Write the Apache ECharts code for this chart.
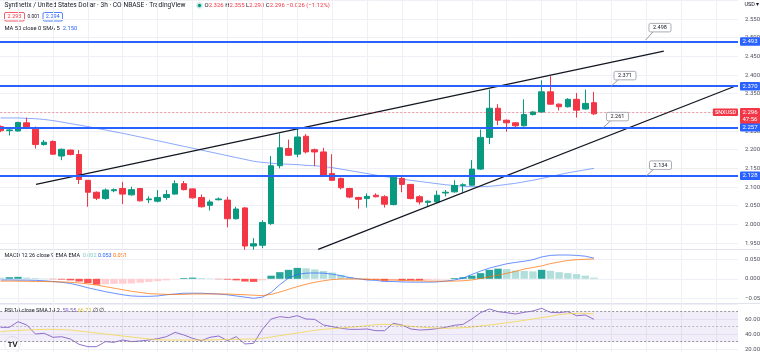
<!DOCTYPE html>
<html>
<head>
<meta charset="utf-8">
<title>SNXUSD 3h</title>
<script src="https://cdn.jsdelivr.net/npm/echarts@6.0.0/dist/echarts.min.js"></script>
<style>
  html, body { margin: 0; padding: 0; background: #fff; }
  #charts { width: 760px; height: 352px; }
</style>
</head>
<body>
<div id="charts"></div>
<script>
// 蜡烛数据 (SNX/USD 3h)
var opens = [2.262,2.251,2.250,2.272,2.255,2.214,2.222,2.183,2.199,2.187,
  2.118,2.086,2.069,2.090,2.096,2.079,2.096,2.066,2.062,2.072,
  2.081,2.109,2.095,2.072,2.051,2.066,2.065,2.015,2.044,1.942,
  1.944,2.002,2.157,2.203,2.188,2.236,2.200,2.194,2.136,2.123,
  2.096,2.072,2.069,2.078,2.074,2.053,2.123,2.107,2.074,2.059,
  2.060,2.084,2.087,2.104,2.105,2.148,2.233,2.311,2.279,2.272,
  2.264,2.294,2.301,2.355,2.322,2.315,2.335,2.309,2.326];
var closes = [2.251,2.253,2.273,2.257,2.214,2.220,2.188,2.201,2.187,2.120,
  2.086,2.070,2.092,2.093,2.081,2.093,2.063,2.068,2.072,2.080,
  2.109,2.093,2.071,2.047,2.060,2.068,2.015,2.041,1.942,1.948,
  2.005,2.157,2.205,2.185,2.234,2.194,2.194,2.132,2.118,2.098,
  2.073,2.067,2.075,2.074,2.054,2.126,2.107,2.069,2.060,2.062,
  2.078,2.086,2.104,2.106,2.148,2.233,2.311,2.279,2.272,2.264,
  2.294,2.301,2.355,2.322,2.315,2.335,2.306,2.324,2.296];
var lows = [2.247,2.238,2.249,2.255,2.203,2.211,2.186,2.172,2.185,2.108,
  2.047,2.065,2.066,2.086,2.054,2.077,2.061,2.057,2.059,2.066,
  2.080,2.091,2.069,2.045,2.037,2.064,1.992,2.013,1.932,1.932,
  1.936,1.998,2.150,2.183,2.180,2.190,2.156,2.129,2.116,2.094,
  2.070,2.042,2.045,2.072,2.045,2.051,2.086,2.067,2.053,2.049,
  2.058,2.075,2.085,2.085,2.103,2.146,2.215,2.266,2.248,2.260,
  2.262,2.292,2.299,2.320,2.305,2.313,2.286,2.307,2.293];
var highs = [2.265,2.257,2.275,2.286,2.262,2.226,2.225,2.203,2.200,2.199,
  2.118,2.088,2.096,2.096,2.114,2.101,2.097,2.075,2.092,2.092,
  2.118,2.116,2.096,2.080,2.066,2.072,2.074,2.047,2.046,1.963,
  2.011,2.183,2.243,2.227,2.257,2.242,2.203,2.205,2.188,2.125,
  2.098,2.074,2.083,2.083,2.078,2.128,2.128,2.108,2.078,2.064,
  2.090,2.092,2.118,2.110,2.172,2.254,2.361,2.322,2.281,2.274,
  2.335,2.303,2.386,2.397,2.324,2.338,2.352,2.361,2.355];

// MA 50
var ma50 = [2.285,2.285,2.285,2.284,2.283,2.281,2.278,2.274,2.270,2.266,
  2.262,2.257,2.253,2.248,2.244,2.239,2.234,2.229,2.224,2.219,
  2.214,2.209,2.204,2.199,2.194,2.189,2.184,2.179,2.174,2.169,
  2.166,2.164,2.162,2.161,2.160,2.158,2.157,2.155,2.152,2.148,
  2.144,2.140,2.136,2.132,2.128,2.125,2.121,2.118,2.115,2.112,
  2.109,2.106,2.104,2.102,2.101,2.101,2.102,2.104,2.107,2.110,
  2.114,2.118,2.123,2.128,2.133,2.138,2.142,2.146,2.150];

// MACD 12 26 9
var macdLine = [-0.003,-0.003,-0.0034,-0.0035,-0.004,-0.005,-0.007,-0.009,-0.012,-0.017,
  -0.023,-0.028,-0.033,-0.037,-0.041,-0.044,-0.045,-0.045,-0.044,-0.041,
  -0.039,-0.037,-0.037,-0.037,-0.038,-0.039,-0.041,-0.044,-0.047,-0.050,
  -0.047,-0.035,-0.015,0.002,0.011,0.0145,0.015,0.0145,0.012,0.008,
  0.003,0.000,-0.003,-0.004,-0.007,-0.007,-0.008,-0.0085,-0.0085,-0.0085,
  -0.008,-0.006,-0.003,0.0017,0.011,0.0197,0.0274,0.033,0.0385,0.042,
  0.045,0.049,0.056,0.060,0.061,0.061,0.060,0.058,0.053];
var signalLine = [-0.006,-0.006,-0.006,-0.0065,-0.007,-0.007,-0.0075,-0.008,-0.009,-0.0105,
  -0.013,-0.016,-0.020,-0.024,-0.028,-0.032,-0.035,-0.038,-0.039,-0.040,
  -0.040,-0.040,-0.039,-0.039,-0.039,-0.039,-0.039,-0.040,-0.041,-0.042,
  -0.043,-0.040,-0.034,-0.027,-0.020,-0.014,-0.009,-0.005,-0.002,-0.0005,
  -0.0005,-0.0005,-0.001,-0.002,-0.003,-0.003,-0.004,-0.005,-0.005,-0.006,
  -0.006,-0.006,-0.006,-0.005,-0.003,0.001,0.005,0.009,0.014,0.019,
  0.025,0.029,0.033,0.039,0.043,0.047,0.049,0.050,0.051];
var macdHist = [0.003,0.004,0.005,0.003,0.002,0.001,-0.001,-0.002,-0.004,-0.007,
  -0.011,-0.015,-0.014,-0.013,-0.0125,-0.012,-0.010,-0.008,-0.006,-0.004,
  -0.001,0.002,0.003,0.002,0.001,-0.001,-0.002,-0.004,-0.007,-0.008,
  -0.004,0.008,0.017,0.023,0.028,0.027,0.024,0.020,0.016,0.010,
  0.005,0.001,-0.002,-0.002,-0.005,-0.004,-0.004,-0.004,-0.004,-0.003,
  -0.002,-0.001,0.002,0.004,0.008,0.0145,0.023,0.026,0.025,0.021,
  0.020,0.019,0.023,0.0205,0.017,0.0145,0.012,0.008,0.003];

// RSI 14 + SMA 14
var rsi = [48.9,48.9,56.4,52,40,41,35.6,36.4,33.3,26.2,
  23.1,23.1,29.8,28.9,32,29.8,30.7,32,33.8,36.4,
  42.2,38.7,34.2,31.1,35.6,37.3,31.1,36.4,26.7,27.6,
  46.2,60,63.1,61.8,64.4,60,59.5,52,49.8,47.6,
  46.2,46.2,46.7,44.4,44.4,54.2,52,46.7,45.3,45.8,
  47.1,48.9,51.6,52.9,60,68.4,73.3,69.8,68.4,66.7,
  68.9,70.7,74.2,68.9,68.4,69.8,64.4,65.3,59.55];
var rsiMa = [43.1,44,44.9,45.3,45.8,46.2,46.2,45.8,45.3,44,
  42.7,41.3,40,38.7,37.3,36,34.7,33.3,32.4,32,
  32,32,32,32,32,32.4,32.9,32.9,33.3,33.3,
  34.2,36,37.8,39.6,41.3,43.1,44.9,46.2,47.1,48,
  48.9,49.8,51.1,52.4,52.9,52.4,51.6,50.2,49.3,48.4,
  48,47.6,48,48.4,49.3,50.7,52,53.3,55.1,56.4,
  58.2,60,61.8,63.6,65.8,67.1,67.6,67.6,66.7];

// 水平线 / 趋势线 / 标注
var levels = [2.493, 2.370, 2.257, 2.128];
var lastClose = 2.296;
var trendUpper = [[4.06, 2.107], [76.0, 2.464]];
var trendLower = [[36.4, 1.933], [84.15, 2.370]];
var calloutText = ['2.498', '2.371', '2.261', '2.134'];
var calloutBox = [[75.56, 2.527], [71.55, 2.3985], [70.69, 2.2886], [75.62, 2.1586]];
var calloutTip = [[73.9, 2.4935], [69.94, 2.369], [68.97, 2.2578], [73.96, 2.129]];

// 刻度
var priceTicks = {min: 1.95, max: 2.60, interval: 0.05};
var macdTicks = {min: -0.05, max: 0.05, interval: 0.05};
var rsiTicks = {min: 20, max: 80, interval: 20};
var rsiBands = [70, 50, 30];

var SLOTS = 85;
var cats = [];
for (var k = 0; k < SLOTS; k++) cats.push(String(k));

var UP = '#089981', DOWN = '#f23645';
var FONT = 'Roboto, "Noto Sans", sans-serif';
var GRIDC = '#eef0f5';

function histColor(i) {
  var v = macdHist[i], p = i > 0 ? macdHist[i - 1] : v;
  if (v >= 0) return p < v ? '#26a69a' : '#b2dfdb';
  return p < v ? '#ffcdd2' : '#ff5252';
}
function minus(v, d) { return (v < 0 ? '\u2212' : '') + Math.abs(v).toFixed(d); }

var myChart = echarts.init(document.getElementById('charts'));

var axisLabelStyle = {fontSize: 6, color: '#50535e', fontFamily: FONT, margin: 7};
function hiddenCat(gi) {
  return {type: 'category', gridIndex: gi, data: cats, boundaryGap: true, show: false};
}

var option = {
  animation: false,
  backgroundColor: '#fff',
  grid: [
    {left: -16.89, right: 22, top: 0, bottom: 0, containLabel: false, outerBoundsMode: 'none'},
    {left: -3.8, right: 22, top: 0.4, height: 242.6, containLabel: false, outerBoundsMode: 'none'},
    {left: -3.8, right: 22, top: 259.3, height: 39, containLabel: false, outerBoundsMode: 'none'},
    {left: -3.8, right: 22, top: 304, height: 45, containLabel: false, outerBoundsMode: 'none'}
  ],
  xAxis: [
    {type: 'value', gridIndex: 0, min: -2, max: 84.5, interval: 4,
      axisLine: {show: false}, axisTick: {show: false}, axisLabel: {show: false},
      splitLine: {show: true, showMinLine: false, showMaxLine: false, lineStyle: {color: GRIDC, width: 1}}},
    hiddenCat(1),
    {type: 'value', gridIndex: 1, min: -0.5, max: SLOTS - 0.5, show: false},
    hiddenCat(2),
    hiddenCat(3)
  ],
  yAxis: [
    {type: 'value', gridIndex: 0, min: 0, max: 1, show: false},
    {type: 'value', gridIndex: 1, position: 'right', min: priceTicks.min, max: priceTicks.max, interval: priceTicks.interval,
      axisLine: {show: false}, axisTick: {show: false},
      axisLabel: Object.assign({showMaxLabel: false, formatter: function (v) { return v.toFixed(3); }}, axisLabelStyle),
      splitLine: {lineStyle: {color: GRIDC}}},
    {type: 'value', gridIndex: 2, position: 'right', min: macdTicks.min, max: macdTicks.max, interval: macdTicks.interval,
      axisLine: {show: false}, axisTick: {show: false},
      axisLabel: Object.assign({formatter: function (v) { return minus(v, 3); }}, axisLabelStyle),
      splitLine: {lineStyle: {color: GRIDC}}},
    {type: 'value', gridIndex: 3, position: 'right', min: rsiTicks.min, max: rsiTicks.max, interval: rsiTicks.interval,
      axisLine: {show: false}, axisTick: {show: false},
      axisLabel: Object.assign({showMaxLabel: false, formatter: function (v) { return v.toFixed(2); }}, axisLabelStyle),
      splitLine: {lineStyle: {color: GRIDC}}}
  ],
  series: [
    {
      name: 'SNXUSD', type: 'candlestick', xAxisIndex: 1, yAxisIndex: 1, clip: false,
      barWidth: 6,
      data: opens.map(function (o, i) { return [o, closes[i], lows[i], highs[i]]; }),
      itemStyle: {color: UP, color0: DOWN, borderColor: UP, borderColor0: DOWN, borderWidth: 1},
      markLine: {
        silent: true, symbol: ['none', 'none'], animation: false,
        data: levels.map(function (v) {
          return {yAxis: v, lineStyle: {color: '#2962ff', width: 2, type: 'solid'},
            label: {show: true, position: 'end', distance: 2, formatter: v.toFixed(3),
              backgroundColor: '#2962ff', color: '#fff', fontSize: 6, fontFamily: FONT,
              padding: [1.5, 2.5, 1, 2.5], borderRadius: 1}};
        }).concat([
          {yAxis: lastClose, lineStyle: {color: 'rgba(242,54,69,0.45)', width: 1, type: [2, 2]},
            label: {show: true, position: 'end', distance: 2, formatter: lastClose.toFixed(3) + '\n47:56',
              backgroundColor: DOWN, color: '#fff', fontSize: 6, lineHeight: 7, fontFamily: FONT,
              padding: [1, 2.5, 0.5, 2.5], borderRadius: 1, offset: [0, 3.3]}},
          {yAxis: lastClose, lineStyle: {color: 'rgba(0,0,0,0)', width: 1},
            label: {show: true, position: 'insideEnd', distance: 0, formatter: 'SNXUSD',
              backgroundColor: DOWN, color: '#fff', fontSize: 5.5, fontFamily: FONT,
              padding: [1, 2, 0.5, 2], borderRadius: 1}}
        ])
      },
      z: 3
    },
    {
      name: 'MA50', type: 'line', xAxisIndex: 1, yAxisIndex: 1, data: ma50, showSymbol: false, clip: false,
      lineStyle: {color: '#2962ff', width: 1, opacity: 0.55}, z: 2
    },
    {
      name: 'trendUpper', type: 'line', xAxisIndex: 2, yAxisIndex: 1, data: trendUpper, showSymbol: false, clip: false,
      lineStyle: {color: '#131722', width: 1.3}, z: 4
    },
    {
      name: 'trendLower', type: 'line', xAxisIndex: 2, yAxisIndex: 1, data: trendLower, showSymbol: false, clip: false,
      lineStyle: {color: '#131722', width: 1.3}, z: 4
    },
    {
      name: 'callouts', type: 'custom', xAxisIndex: 2, yAxisIndex: 1, clip: false, z: 5,
      data: calloutBox.map(function (b, i) { return [b[0], b[1], calloutTip[i][0], calloutTip[i][1]]; }),
      encode: {x: [0, 2], y: [1, 3]},
      renderItem: function (params, api) {
        var b = api.coord([api.value(0), api.value(1)]);
        var t = api.coord([api.value(2), api.value(3)]);
        var w = 22, h = 8.5;
        return {
          type: 'group',
          children: [
            {type: 'line', shape: {x1: b[0] - w / 2 + 4, y1: b[1] + h / 2, x2: t[0], y2: t[1]},
              style: {stroke: '#9598a1', lineWidth: 1}},
            {type: 'rect', shape: {x: b[0] - w / 2, y: b[1] - h / 2, width: w, height: h, r: 1.5},
              style: {fill: '#fff', stroke: '#9598a1', lineWidth: 0.8}},
            {type: 'text', style: {x: b[0], y: b[1] + 0.3, text: calloutText[params.dataIndex], align: 'center',
              verticalAlign: 'middle', fontSize: 5.5, fontFamily: FONT, fill: '#131722'}}
          ]
        };
      }
    },
    {
      name: 'Histogram', type: 'bar', xAxisIndex: 3, yAxisIndex: 2, barWidth: 7.4,
      data: macdHist.map(function (v, i) { return {value: v, itemStyle: {color: histColor(i)}}; })
    },
    {
      name: 'MACD', type: 'line', xAxisIndex: 3, yAxisIndex: 2, data: macdLine, showSymbol: false, clip: false,
      lineStyle: {color: '#2962ff', width: 1, opacity: 0.7}
    },
    {
      name: 'Signal', type: 'line', xAxisIndex: 3, yAxisIndex: 2, data: signalLine, showSymbol: false, clip: false,
      lineStyle: {color: '#ff6d00', width: 1, opacity: 0.7}
    },
    {
      name: 'RSI', type: 'line', xAxisIndex: 4, yAxisIndex: 3, data: rsi, showSymbol: false, clip: false,
      lineStyle: {color: '#7e57c2', width: 1, opacity: 0.85},
      markArea: {silent: true, itemStyle: {color: 'rgba(126,87,194,0.1)'}, data: [[{yAxis: 30}, {yAxis: 70}]]},
      markLine: {
        silent: true, symbol: ['none', 'none'], label: {show: false},
        data: rsiBands.map(function (v) {
          return {yAxis: v, lineStyle: {color: '#787b86', width: 1, type: [2, 2], opacity: v === 50 ? 0.45 : 0.8}};
        })
      }
    },
    {
      name: 'RSI MA', type: 'line', xAxisIndex: 4, yAxisIndex: 3, data: rsiMa, showSymbol: false, clip: false,
      lineStyle: {color: '#f2d64b', width: 1, opacity: 0.8}
    }
  ],
  graphic: [
    {type: 'line', shape: {x1: 0, y1: 249.5, x2: 760, y2: 249.5}, style: {stroke: '#e0e3eb', lineWidth: 1}, silent: true},
    {type: 'line', shape: {x1: 0, y1: 303.5, x2: 760, y2: 303.5}, style: {stroke: '#e0e3eb', lineWidth: 1}, silent: true},
    {type: 'text', x: 4.5, y: 5.5, silent: true,
      style: {text: 'Synthetix / United States Dollar \u00b7 3h \u00b7 COINBASE \u00b7 TradingView', fontSize: 6.6,
        fontFamily: FONT, fill: '#131722', verticalAlign: 'middle'}},
    {type: 'circle', shape: {cx: 199.5, cy: 5.5, r: 3.2}, style: {fill: 'rgba(8,153,129,0.2)'}, silent: true},
    {type: 'circle', shape: {cx: 199.5, cy: 5.5, r: 1.7}, style: {fill: UP}, silent: true},
    {type: 'text', x: 204.5, y: 5.5, silent: true,
      style: {text: '{l|O}{v|2.326} {l|H}{v|2.355} {l|L}{v|2.293} {l|C}{v|2.296} {v|\u22120.026 (\u22121.12%)}',
        verticalAlign: 'middle', fontSize: 6, fontFamily: FONT,
        rich: {l: {fill: '#131722', color: '#131722', fontSize: 6, fontFamily: FONT},
               v: {fill: DOWN, color: DOWN, fontSize: 6, fontFamily: FONT}}}},
    {type: 'rect', shape: {x: 4.5, y: 12.5, width: 20, height: 8.5, r: 1.5}, style: {fill: '#fff', stroke: DOWN, lineWidth: 0.8}, silent: true},
    {type: 'text', x: 14.5, y: 16.9, silent: true,
      style: {text: '2.293', align: 'center', verticalAlign: 'middle', fontSize: 5.5, fontFamily: FONT, fill: DOWN}},
    {type: 'text', x: 27.5, y: 16.9, silent: true,
      style: {text: '0.001', verticalAlign: 'middle', fontSize: 4.8, fontFamily: FONT, fill: '#131722'}},
    {type: 'rect', shape: {x: 43, y: 12.5, width: 19.5, height: 8.5, r: 1.5}, style: {fill: '#fff', stroke: '#2962ff', lineWidth: 0.8}, silent: true},
    {type: 'text', x: 52.75, y: 16.9, silent: true,
      style: {text: '2.294', align: 'center', verticalAlign: 'middle', fontSize: 5.5, fontFamily: FONT, fill: '#2962ff'}},
    {type: 'text', x: 4.5, y: 28.8, silent: true,
      style: {text: '{l|MA 50 close 0 SMA 5}  {b|2.150}', verticalAlign: 'middle', fontSize: 5.8, fontFamily: FONT,
        rich: {l: {fill: '#131722', color: '#131722', fontSize: 5.8, fontFamily: FONT},
               b: {fill: '#2962ff', color: '#2962ff', fontSize: 5.8, fontFamily: FONT}}}},
    {type: 'text', x: 4.5, y: 256, silent: true,
      style: {text: '{l|MACD 12 26 close 9 EMA EMA}  {h|0.002} {m|0.053} {s|0.051}', verticalAlign: 'middle', fontSize: 5.5, fontFamily: FONT,
        rich: {l: {fill: '#131722', color: '#131722', fontSize: 5.5, fontFamily: FONT},
               h: {fill: '#80cbc4', color: '#80cbc4', fontSize: 5.5, fontFamily: FONT},
               m: {fill: '#2962ff', color: '#2962ff', fontSize: 5.5, fontFamily: FONT},
               s: {fill: '#ff6d00', color: '#ff6d00', fontSize: 5.5, fontFamily: FONT}}}},
    {type: 'text', x: 4.5, y: 310.3, silent: true,
      style: {text: '{l|RSI 14 close SMA 14 2}  {r|59.55} {y|66.70} {l|\u2205 \u2205}', verticalAlign: 'middle', fontSize: 5.5, fontFamily: FONT,
        rich: {l: {fill: '#131722', color: '#131722', fontSize: 5.5, fontFamily: FONT},
               r: {fill: '#7e57c2', color: '#7e57c2', fontSize: 5.5, fontFamily: FONT},
               y: {fill: '#e0bf2c', color: '#e0bf2c', fontSize: 5.5, fontFamily: FONT}}}},
    {type: 'text', x: 744.5, y: 4.5, silent: true,
      style: {text: 'USD \u25be', verticalAlign: 'middle', fontSize: 5.5, fontFamily: FONT, fill: '#131722'}},
    {type: 'circle', shape: {cx: 12.5, cy: 344.5, r: 8}, style: {fill: '#fff', stroke: 'rgba(0,0,0,0.08)', lineWidth: 1}, silent: true},
    {type: 'text', x: 12.5, y: 344.8, silent: true,
      style: {text: 'TV', align: 'center', verticalAlign: 'middle', fontSize: 7.5, fontWeight: 'bold', fontFamily: FONT, fill: '#131722'}}
  ]
};

myChart.setOption(option);
</script>
</body>
</html>
